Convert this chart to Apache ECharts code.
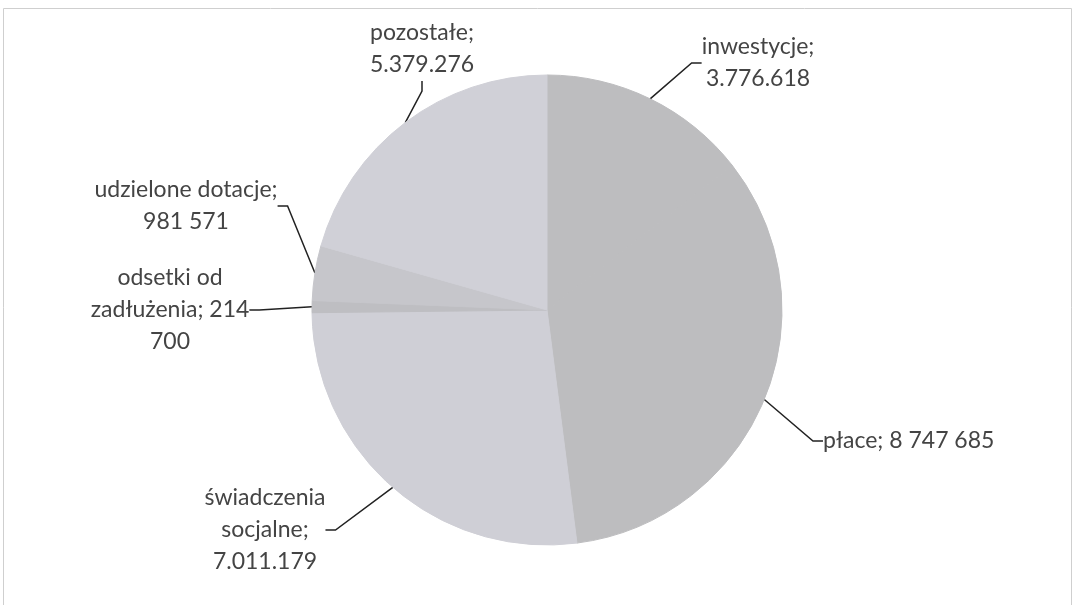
<!DOCTYPE html>
<html>
<head>
<meta charset="utf-8">
<script src="https://cdn.jsdelivr.net/npm/echarts@6/dist/echarts.min.js"></script>
<style>
  html, body { margin: 0; padding: 0; background: #fff; }
  #chart { width: 1075px; height: 605px; }
</style>
</head>
<body>
<div id="chart"></div>
<script>
  // slices, clockwise from 12 o'clock
  const categories = ['inwestycje', 'płace', 'świadczenia socjalne', 'odsetki od zadłużenia', 'udzielone dotacje', 'pozostałe']
  const values = [3776618, 8747685, 7011179, 214700, 981571, 5379276]
  // label text as printed (mixed thousand separators, manual breaks)
  const labelTexts = [
    'inwestycje;\n3.776.618',
    'płace; 8 747 685',
    'świadczenia\nsocjalne;\n7.011.179',
    'odsetki od\nzadłużenia; 214\n700',
    'udzielone dotacje;\n981 571',
    'pozostałe;\n5.379.276'
  ]

  // the scan barely separates inwestycje from płace
  const sliceColors = ['#bdbdbf', '#bdbdbf', '#cfcfd6', '#bebec2', '#c6c6cb', '#d0d0d7']
  // where each label was dragged to (centre of the text block)
  const labelSpots = [
    { x: 758, y: 63, align: 'center' },
    { x: 823, y: 441, align: 'left' },
    { x: 265, y: 530, align: 'center' },
    { x: 170, y: 310, align: 'center' },
    { x: 186, y: 206, align: 'center' },
    { x: 422, y: 49, align: 'center' }
  ]

  const chart = echarts.init(document.getElementById('chart'))

  chart.setOption({
    backgroundColor: '#fff',
    animation: false,
    graphic: [
      {
        type: 'rect',
        shape: { x: 3.5, y: 8.5, width: 1068, height: 640 },
        style: { fill: 'none', stroke: '#cfcfcf', lineWidth: 1 },
        silent: true
      }
    ],
    series: [
      {
        type: 'pie',
        center: [547, 310],
        radius: 235,
        startAngle: 90,
        clockwise: true,
        avoidLabelOverlap: false,
        label: {
          show: true,
          position: 'outside',
          color: '#444',
          fontFamily: 'Lato',
          fontSize: 23,
          lineHeight: 32,
          align: 'center',
          formatter: (p) => labelTexts[p.dataIndex]
        },
        labelLine: {
          show: true,
          length: 15,
          length2: 10,
          lineStyle: { color: '#222', width: 1.5 }
        },
        labelLayout: (params) => {
          const s = labelSpots[params.dataIndex]
          return { x: s.x, y: s.y, align: s.align, verticalAlign: 'middle' }
        },
        emphasis: { disabled: true },
        data: categories.map((name, i) => ({
          name,
          value: values[i],
          // border in the fill colour hides the antialiasing seam
          itemStyle: { color: sliceColors[i], borderColor: sliceColors[i], borderWidth: 1 }
        }))
      }
    ]
  })
</script>
</body>
</html>
